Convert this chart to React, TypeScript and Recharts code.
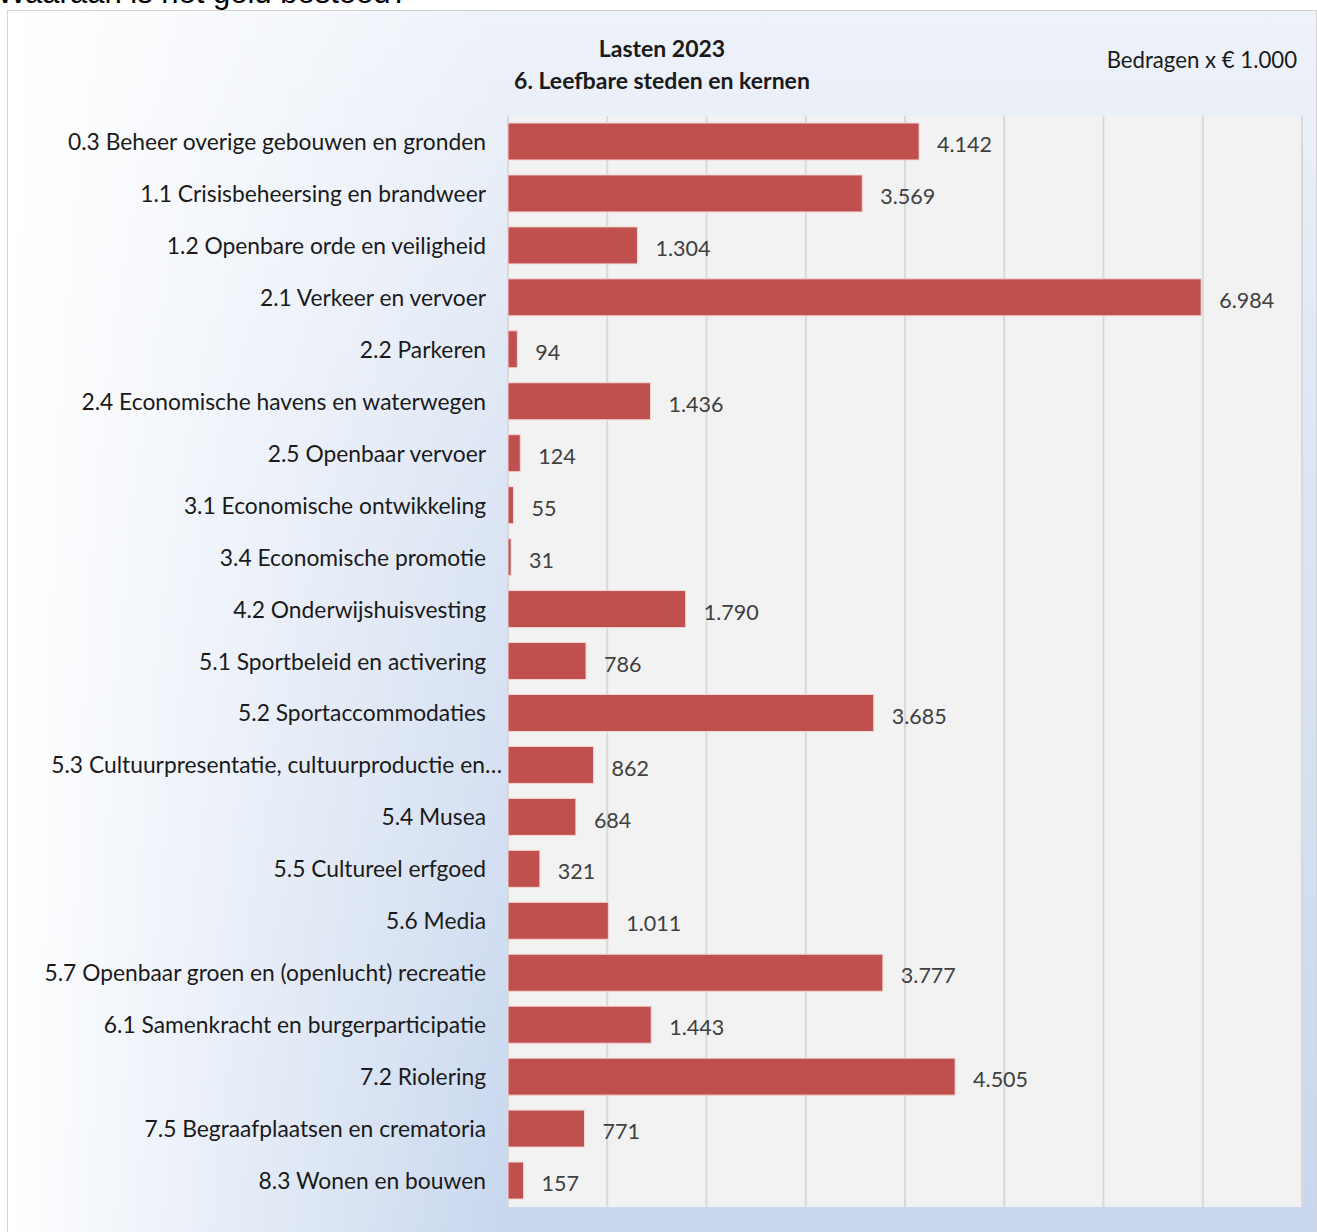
import { BarChart, Bar, XAxis, YAxis, CartesianGrid, LabelList } from "recharts";

const categories = [
  "0.3 Beheer overige gebouwen en gronden",
  "1.1 Crisisbeheersing en brandweer",
  "1.2 Openbare orde en veiligheid",
  "2.1 Verkeer en vervoer",
  "2.2 Parkeren",
  "2.4 Economische havens en waterwegen",
  "2.5 Openbaar vervoer",
  "3.1 Economische ontwikkeling",
  "3.4 Economische promotie",
  "4.2 Onderwijshuisvesting",
  "5.1 Sportbeleid en activering",
  "5.2 Sportaccommodaties",
  "5.3 Cultuurpresentatie, cultuurproductie en…",
  "5.4 Musea",
  "5.5 Cultureel erfgoed",
  "5.6 Media",
  "5.7 Openbaar groen en (openlucht) recreatie",
  "6.1 Samenkracht en burgerparticipatie",
  "7.2 Riolering",
  "7.5 Begraafplaatsen en crematoria",
  "8.3 Wonen en bouwen",
];

const lasten = [
  4142, 3569, 1304, 6984, 94, 1436, 124, 55, 31, 1790, 786, 3685, 862, 684,
  321, 1011, 3777, 1443, 4505, 771, 157,
];

const xTicks = [0, 1000, 2000, 3000, 4000, 5000, 6000, 7000, 8000];

const data = categories.map((name, i) => ({ name, value: lasten[i] }));

const FONT = "Lato, 'Noto Sans', sans-serif";

const nlFormat = (v: number): string =>
  String(v).replace(/\B(?=(\d{3})+(?!\d))/g, ".");

// Excel lets a truncated label's ellipsis run into the margin
const CategoryTick = (props: any) => {
  const { x, y, payload } = props;
  const label: string = payload.value;
  const truncated = label.endsWith("…");
  return (
    <text
      x={x}
      y={y}
      dx={truncated ? 16 : 0}
      dy={8}
      textAnchor="end"
      fill="#1a1a1a"
      fontSize={22.8}
      fontFamily={FONT}
    >
      {label}
    </text>
  );
};

export default function App() {
  return (
    <div
      style={{
        position: "absolute",
        left: 0,
        top: 0,
        width: 1317,
        height: 1232,
        overflow: "hidden",
        background: "#ffffff",
      }}
    >
      <div
        style={{
          position: "absolute",
          left: -3,
          top: -25,
          fontFamily: "'Liberation Sans', Arial, sans-serif",
          fontSize: 31,
          color: "#000",
          whiteSpace: "nowrap",
        }}
      >
        Waaraan is het geld besteed?
      </div>
      <div
        style={{
          position: "absolute",
          left: 7,
          top: 10,
          width: 1308,
          height: 1230,
          border: "1px solid #d4d4d4",
          background:
            "linear-gradient(to right, rgba(255,255,255,1) 0%, rgba(255,255,255,0.6) 15%, rgba(255,255,255,0) 38%), linear-gradient(to bottom, #eef2f9 0%, #dce5f4 40%, #c8d7ee 100%)",
        }}
      />
      <div
        style={{
          position: "absolute",
          left: 0,
          top: 32,
          width: 1324,
          textAlign: "center",
          fontFamily: FONT,
          fontWeight: 700,
          fontSize: 23,
          lineHeight: "32px",
          color: "#1a1a1a",
        }}
      >
        Lasten 2023
        <br />
        6. Leefbare steden en kernen
      </div>
      <div
        style={{
          position: "absolute",
          right: 20,
          top: 46,
          fontFamily: FONT,
          fontSize: 22.2,
          color: "#1a1a1a",
        }}
      >
        Bedragen x € 1.000
      </div>
      <div style={{ position: "absolute", left: 0, top: 0 }}>
        <BarChart
          width={1317}
          height={1232}
          data={data}
          layout="vertical"
          margin={{ top: 116, right: 15, bottom: 25, left: 0 }}
          barSize={37}
        >
          <CartesianGrid
            horizontal={false}
            vertical={true}
            fill="#f2f2f2"
            fillOpacity={1}
            stroke="#d9d9d9"
            strokeWidth={2}
          />
          <XAxis
            type="number"
            domain={[0, 8000]}
            ticks={xTicks}
            hide
          />
          <YAxis
            type="category"
            dataKey="name"
            width={508}
            axisLine={false}
            tickLine={false}
            tickSize={0}
            tickMargin={22}
            interval={0}
            tick={<CategoryTick />}
          />
          <Bar
            dataKey="value"
            fill="#c0504d"
            stroke="#f4d6d5"
            strokeWidth={1}
            isAnimationActive={false}
          >
            <LabelList
              dataKey="value"
              position="right"
              offset={18}
              dy={3}
              formatter={(v: any) => nlFormat(Number(v))}
              fill="#404040"
              fontSize={21.5}
              fontFamily={FONT}
            />
          </Bar>
        </BarChart>
      </div>
    </div>
  );
}
